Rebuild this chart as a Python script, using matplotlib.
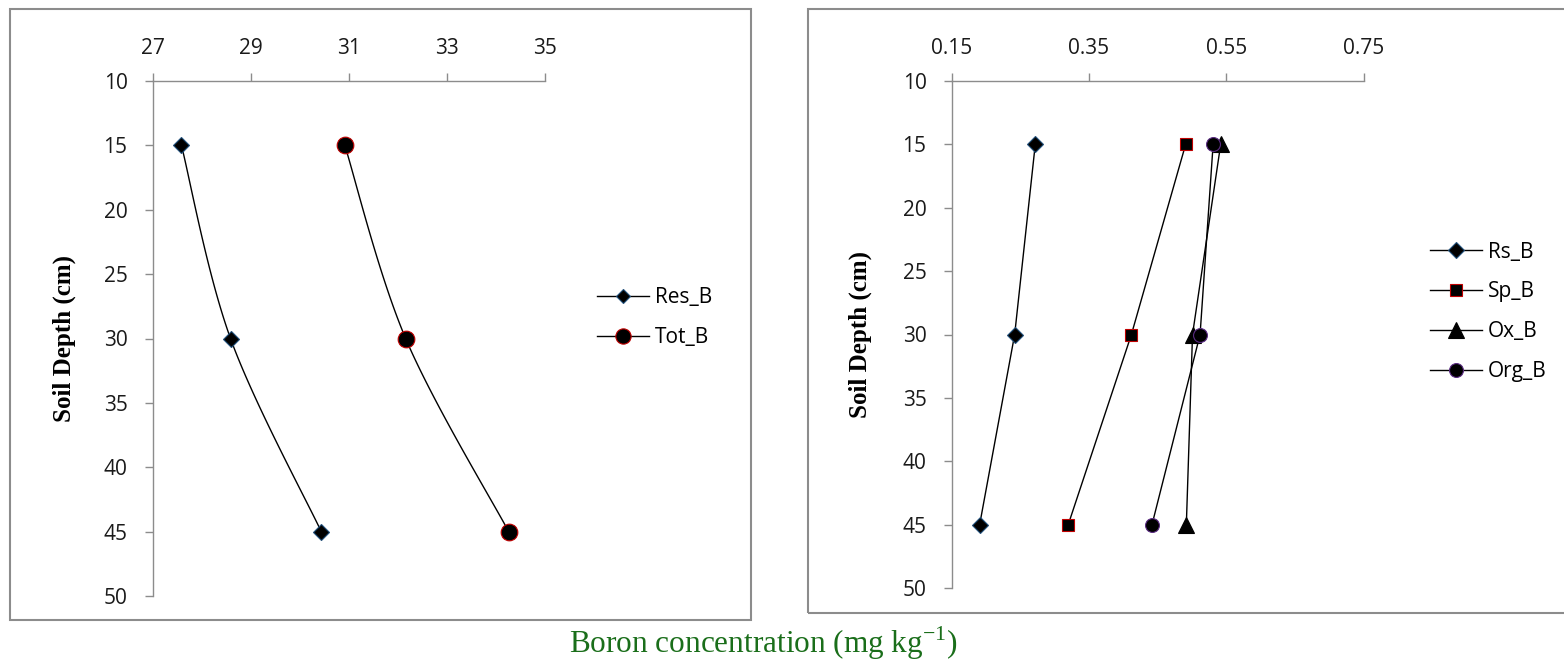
import numpy as np
import matplotlib
matplotlib.use("Agg")
import matplotlib.pyplot as plt
from matplotlib.patches import Rectangle

# ---- data ----
depth = [15, 30, 45]
res_b = [27.59, 28.59, 30.44]
tot_b = [30.92, 32.16, 34.26]

rs_b = [0.272, 0.242, 0.191]
sp_b = [0.491, 0.412, 0.320]
ox_b = [0.542, 0.501, 0.492]
org_b = [0.531, 0.512, 0.442]

left_xticks = [27, 29, 31, 33, 35]
right_xticks = [0.15, 0.35, 0.55, 0.75]
yticks = [10, 15, 20, 25, 30, 35, 40, 45, 50]

TICKFONT = "Open Sans"
SERIF = "Liberation Serif"
FS = 15


def smooth(xs, ys, n=40):
    """Excel-like smoothed line through the points (Bezier, Catmull-Rom style)."""
    P = np.column_stack([xs, ys]).astype(float)
    m = len(P)
    out = [P[0]]
    for i in range(m - 1):
        p0 = P[i - 1] if i > 0 else P[i]
        p1 = P[i]
        p2 = P[i + 1]
        p3 = P[i + 2] if i + 2 < m else P[i + 1]
        c1 = p1 + (p2 - p0) / 6.0
        c2 = p2 - (p3 - p1) / 6.0
        t = np.linspace(0, 1, n)[1:, None]
        b = ((1 - t) ** 3) * p1 + 3 * ((1 - t) ** 2) * t * c1 + 3 * (1 - t) * t ** 2 * c2 + t ** 3 * p2
        out.extend(b)
    out = np.array(out)
    return out[:, 0], out[:, 1]


fig = plt.figure(figsize=(15.64, 6.59), dpi=100)
W, H = 1564, 659

# outer frames
fig.patches.append(Rectangle((10 / W, 1 - 620 / H), 741 / W, 611 / H, transform=fig.transFigure,
                             fill=False, edgecolor="#8c8c8c", linewidth=1.5))
fig.patches.append(Rectangle((808 / W, 1 - 612.5 / H), 800 / W, 603.5 / H, transform=fig.transFigure,
                             fill=False, edgecolor="#8c8c8c", linewidth=1.5))


def style_axes(ax, xlim, xticks, xfmt):
    ax.set_xlim(*xlim)
    ax.set_ylim(50, 10)
    ax.xaxis.set_ticks_position("top")
    ax.set_xticks(xticks)
    ax.set_xticklabels([xfmt(v) for v in xticks])
    ax.set_yticks(yticks)
    ax.set_yticklabels([str(v) for v in yticks])
    for s in ["right", "bottom"]:
        ax.spines[s].set_visible(False)
    for s in ["left", "top"]:
        ax.spines[s].set_color("#8c8c8c")
        ax.spines[s].set_linewidth(1.0)
    ax.tick_params(axis="x", direction="out", length=6, width=1, color="#8c8c8c", pad=9.5,
                   labelsize=FS, labelcolor="#1a1a1a")
    ax.tick_params(axis="y", direction="out", length=6, width=1, color="#8c8c8c", pad=12,
                   labelsize=FS, labelcolor="#1a1a1a")
    for lab in ax.get_xticklabels() + ax.get_yticklabels():
        lab.set_fontfamily(TICKFONT)
    ax.set_facecolor("none")


# ---- left panel ----
axL = fig.add_axes([152.5 / W, 1 - 596 / H, 392.5 / W, 515 / H])
style_axes(axL, (27, 35), left_xticks, lambda v: f"{v:d}")
for xs, mk, ms, mec, lab in [(res_b, "D", 8, "#1f4e79", "Res_B"), (tot_b, "o", 12, "#c00000", "Tot_B")]:
    sx, sy = smooth(xs, depth)
    axL.plot(sx, sy, color="black", linewidth=1.0, zorder=2)
    axL.plot(xs, depth, linestyle="none", marker=mk, markersize=ms, markerfacecolor="black",
             markeredgecolor=mec, markeredgewidth=0.8, zorder=3)
    axL.plot([], [], color="black", linewidth=1.0, marker=mk, markersize=ms - 1,
             markerfacecolor="black", markeredgecolor=mec, markeredgewidth=0.8, label=lab)
legL = axL.legend(loc="center left", bbox_to_anchor=(1.110, 0.5405), frameon=False, handlelength=2.5,
                  handletextpad=0.3, labelspacing=0.9, borderaxespad=0,
                  prop={"family": TICKFONT, "size": FS})
axL.text(-0.225, 0.5, "Soil Depth (cm)", transform=axL.transAxes, rotation=90, ha="center", va="center",
         fontsize=18, fontweight="bold", family=SERIF)

# ---- right panel ----
axR = fig.add_axes([951.5 / W, 1 - 588 / H, 412 / W, 507 / H])
style_axes(axR, (0.15, 0.75), right_xticks, lambda v: f"{v:.2f}")
series = [
    (rs_b, "D", 8, "#1f4e79", "Rs_B"),
    (sp_b, "s", 8, "#c00000", "Sp_B"),
    (ox_b, "^", 11, "black", "Ox_B"),
    (org_b, "o", 10, "#5b2c83", "Org_B"),
]
for xs, mk, ms, mec, lab in series:
    axR.plot(xs, depth, color="black", linewidth=1.0, marker=mk, markersize=ms, markerfacecolor="black",
             markeredgecolor=mec, markeredgewidth=0.8, label=lab)
axR.legend(loc="center left", bbox_to_anchor=(1.1406, 0.545), frameon=False, handlelength=2.5,
           handletextpad=0.3, labelspacing=0.9, borderaxespad=0,
           prop={"family": TICKFONT, "size": FS})
axR.text(-0.222, 0.5, "Soil Depth (cm)", transform=axR.transAxes, rotation=90, ha="center", va="center",
         fontsize=18, fontweight="bold", family=SERIF)

# ---- shared x label ----
fig.text(763 / W, 1 - 643 / H, "Boron concentration (mg kg$^{\\mathregular{-1}}$)", ha="center", va="center",
         fontsize=22.5, family=SERIF, color="#1a6e1a")

fig.savefig("out.png", dpi=100)
